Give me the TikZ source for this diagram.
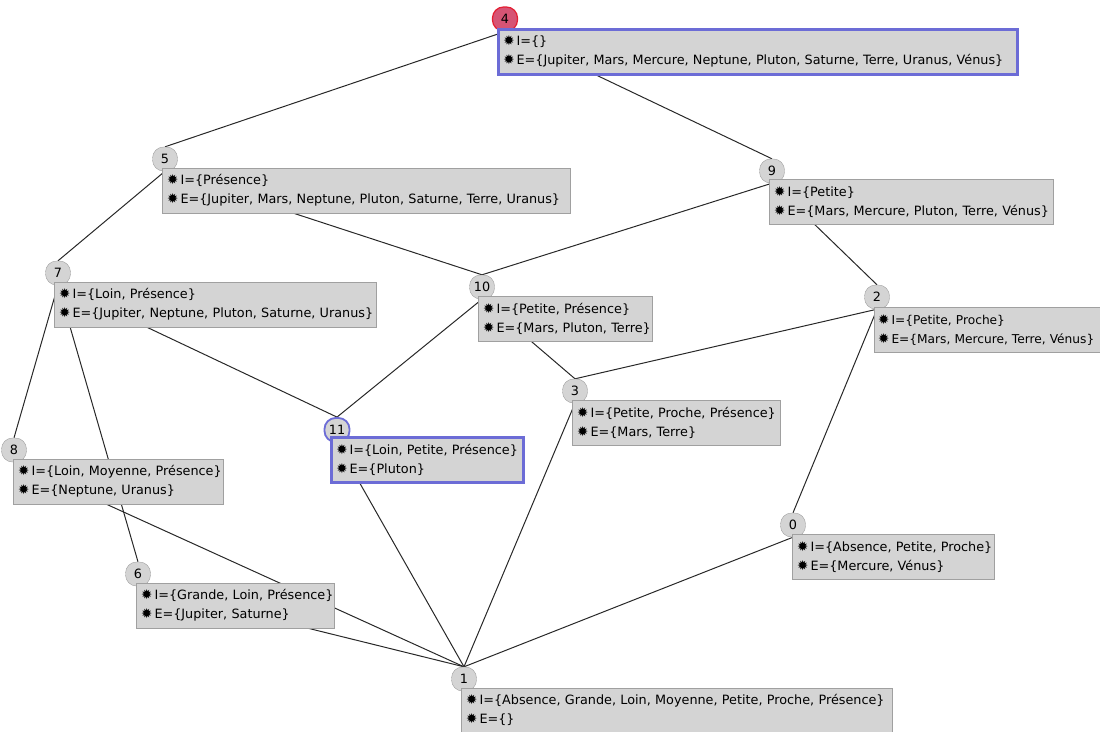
\documentclass[tikz,border=0pt]{standalone}
\usepackage{fontspec}
\setmainfont{DejaVu Sans}
\usetikzlibrary{backgrounds,shadows}
\definecolor{boxfill}{RGB}{212,212,212}
\definecolor{boxline}{RGB}{160,160,160}
\definecolor{boxshadow}{RGB}{120,120,120}
\definecolor{selblue}{RGB}{108,108,214}
\definecolor{topred}{RGB}{228,30,50}
\definecolor{topfill}{RGB}{214,84,116}
\definecolor{edgecol}{RGB}{40,40,40}
\newcommand\bugicon{{\fontsize{13.5}{13.5}\selectfont ✹}\hspace{2pt}}
\newcommand\conceptline[1]{\mbox{\bugicon #1}}
\tikzset{
  numbadge/.style={draw=boxline, fill=boxfill, rounded corners=11pt,
    minimum height=24pt, minimum width=25pt, inner xsep=4pt, inner ysep=0pt,
    font=\fontsize{12.8}{12.8}\selectfont},
  topbadge/.style={numbadge, draw=topred, fill=topfill, line width=1.2pt},
  selbadge/.style={numbadge, draw=selblue, line width=1.8pt},
  conceptbox/.style={draw=boxline, fill=boxfill, anchor=north west,
    minimum height=45pt, inner xsep=5pt, inner ysep=2pt, align=left,
    font=\fontsize{12.8}{19}\selectfont,
    drop shadow={shadow xshift=1.2pt, shadow yshift=-1.2pt, fill=boxshadow, opacity=1}},
  selbox/.style={conceptbox, draw=selblue, line width=2.5pt},
  latedge/.style={draw=edgecol, line width=1pt},
}
\begin{document}
\begin{tikzpicture}[x=1pt,y=-1pt]
\useasboundingbox (0,0) rectangle (1100,731);
% number badges
\node[topbadge] (c4) at (505,19) {4};
\node[numbadge] (c5) at (165,159) {5};
\node[numbadge] (c9) at (772,171) {9};
\node[numbadge] (c7) at (58,273) {7};
\node[numbadge] (c10) at (482,287) {10};
\node[numbadge] (c2) at (877,297) {2};
\node[numbadge] (c3) at (575,391) {3};
\node[selbadge] (c11) at (337,430) {11};
\node[numbadge] (c8) at (14,450) {8};
\node[numbadge] (c0) at (793,525) {0};
\node[numbadge] (c6) at (138,574) {6};
\node[numbadge] (c1) at (464,679) {1};
% concept boxes
\node[selbox, text width=509pt] (b4) at (497,28)
  {\conceptline{I=\{\}}\\\conceptline{E=\{Jupiter, Mars, Mercure, Neptune, Pluton, Saturne, Terre, Uranus, Vénus\}}};
\node[conceptbox, text width=398pt] (b5) at (162,168)
  {\conceptline{I=\{Présence\}}\\\conceptline{E=\{Jupiter, Mars, Neptune, Pluton, Saturne, Terre, Uranus\}}};
\node[conceptbox, text width=274pt] (b9) at (769,179)
  {\conceptline{I=\{Petite\}}\\\conceptline{E=\{Mars, Mercure, Pluton, Terre, Vénus\}}};
\node[conceptbox, text width=312pt] (b7) at (54,282)
  {\conceptline{I=\{Loin, Présence\}}\\\conceptline{E=\{Jupiter, Neptune, Pluton, Saturne, Uranus\}}};
\node[conceptbox, text width=164pt] (b10) at (478,296)
  {\conceptline{I=\{Petite, Présence\}}\\\conceptline{E=\{Mars, Pluton, Terre\}}};
\node[conceptbox, text width=218pt, inner xsep=4pt, font=\fontsize{12.2}{19}\selectfont] (b2) at (874,307)
  {\conceptline{I=\{Petite, Proche\}}\\\conceptline{E=\{Mars, Mercure, Terre, Vénus\}}};
\node[conceptbox, text width=198pt] (b3) at (572,400)
  {\conceptline{I=\{Petite, Proche, Présence\}}\\\conceptline{E=\{Mars, Terre\}}};
\node[selbox, text width=182pt] (b11) at (330,436)
  {\conceptline{I=\{Loin, Petite, Présence\}}\\\conceptline{E=\{Pluton\}}};
\node[conceptbox, text width=200pt] (b8) at (13,459)
  {\conceptline{I=\{Loin, Moyenne, Présence\}}\\\conceptline{E=\{Neptune, Uranus\}}};
\node[conceptbox, text width=192pt] (b0) at (792,534)
  {\conceptline{I=\{Absence, Petite, Proche\}}\\\conceptline{E=\{Mercure, Vénus\}}};
\node[conceptbox, text width=188pt] (b6) at (136,583)
  {\conceptline{I=\{Grande, Loin, Présence\}}\\\conceptline{E=\{Jupiter, Saturne\}}};
\node[conceptbox, text width=421pt, minimum height=44pt] (b1) at (461,688)
  {\conceptline{I=\{Absence, Grande, Loin, Moyenne, Petite, Proche, Présence\}}\\\conceptline{E=\{\}}};
% edges
\begin{scope}[on background layer]
\draw[latedge] (c4.south) -- (c5.north);
\draw[latedge] (c4.south) -- (c9.north);
\draw[latedge] (c5.south) -- (c7.north);
\draw[latedge] (c5.south) -- (c10.north);
\draw[latedge] (c9.south) -- (c10.north);
\draw[latedge] (c9.south) -- (c2.north);
\draw[latedge] (c7.south) -- (c8.north);
\draw[latedge] (c7.south) -- (c6.north);
\draw[latedge] (c7.south) -- (c11.north);
\draw[latedge] (c10.south) -- (c11.north);
\draw[latedge] (c10.south) -- (c3.north);
\draw[latedge] (c2.south) -- (c3.north);
\draw[latedge] (c2.south) -- (c0.north);
\draw[latedge] (c8.south) -- (c1.north);
\draw[latedge] (c6.south) -- (c1.north);
\draw[latedge] (c11.south) -- (c1.north);
\draw[latedge] (c3.south) -- (c1.north);
\draw[latedge] (c0.south) -- (c1.north);
\end{scope}
\end{tikzpicture}
\end{document}
